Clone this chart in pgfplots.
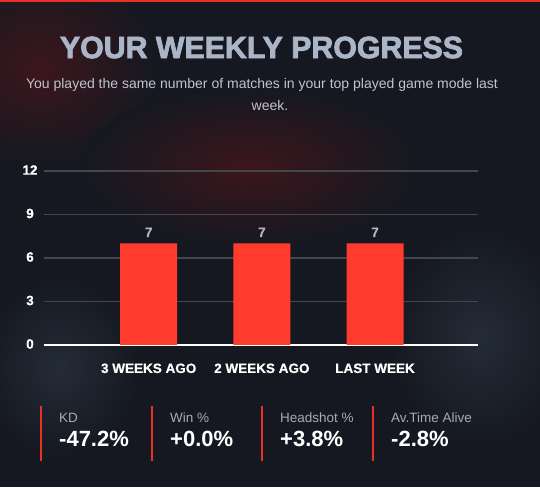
\documentclass[border=0pt]{standalone}
\usepackage{fontspec}
\setmainfont{Liberation Sans}
\newfontfamily\heavyfont[FakeBold=2.5]{Liberation Sans Bold}
\newfontfamily\tickfont[FakeBold=0.6]{Liberation Sans Bold}
\usepackage{graphicx}
\usepackage{pgfplots}
\pgfplotsset{compat=1.18}
\definecolor{bg}{RGB}{21,24,32}
\definecolor{haze}{RGB}{60,22,28}
\definecolor{hazeb}{RGB}{36,44,56}
\definecolor{barred}{RGB}{255,59,45}
\definecolor{sepred}{RGB}{232,50,40}
\definecolor{titlecol}{RGB}{170,182,200}
\definecolor{subcol}{RGB}{192,196,206}
\definecolor{labcol}{RGB}{168,170,178}
\definecolor{valcol}{RGB}{178,182,192}
\definecolor{gridcol}{RGB}{68,70,78}
\begin{document}
\begin{tikzpicture}[x=1pt,y=1pt]
\fill[bg] (0,0) rectangle (540,487);
\begin{scope}
\clip (0,0) rectangle (540,487);
\shade[inner color=haze, outer color=bg] (40,420) ellipse (120 and 100);
\shade[inner color=haze, outer color=bg] (250,320) ellipse (170 and 80);
\shade[inner color=hazeb, outer color=bg] (480,150) ellipse (90 and 110);
\shade[inner color=hazeb, outer color=bg] (60,120) ellipse (80 and 90);
\end{scope}
\fill[sepred] (0,485) rectangle (540,487);
\node[inner sep=0, text=titlecol] at (261.5,439.5)
  {\resizebox{403pt}{21.5pt}{\heavyfont YOUR WEEKLY PROGRESS}};
\node[anchor=base, inner sep=0, text=subcol, font=\fontsize{14}{17}\selectfont] at (262,398)
  {You played the same number of matches in your top played game mode last};
\node[anchor=base, inner sep=0, text=subcol, font=\fontsize{14}{17}\selectfont] at (270,376) {week.};
\begin{axis}[
  at={(44pt,142pt)}, anchor=south west,
  scale only axis, width=434pt, height=174pt,
  ymin=0, ymax=12, ytick={0,3,6,9,12},
  xmin=-0.925, xmax=2.91,
  xtick={0,1,2}, xticklabels={3 WEEKS AGO,2 WEEKS AGO,LAST WEEK},
  ybar, bar width=57pt,
  axis x line=bottom, axis y line=left,
  x axis line style={draw=white, line width=1.2pt, -},
  y axis line style={draw=none},
  major tick length=0pt,
  ymajorgrids, grid style={draw=gridcol, line width=1.5pt},
  /pgf/number format/assume math mode=true,
  ticklabel style={text=white, font=\fontsize{13.5}{15}\tickfont},
  yticklabel style={anchor=center, xshift=-14pt, yshift=1pt},
  xticklabel style={yshift=-15pt},
  nodes near coords,
  every node near coord/.append style={text=valcol, font=\fontsize{13.5}{15}\tickfont, yshift=3pt},
]
\addplot[fill=barred, draw=none] coordinates {(0,7) (1,7) (2,7)};
\end{axis}
\foreach \xx in {41,152,262,373} {\draw[sepred, line width=1.3pt] (\xx,26) -- (\xx,81);}
\foreach \xx/\lab/\val in {59/KD/-47.2\%, 170/Win \%/+0.0\%, 280/Headshot \%/+3.8\%, 391/Av.Time Alive/-2.8\%} {
  \node[anchor=base west, inner sep=0, text=labcol, font=\fontsize{13.5}{16}\selectfont] at (\xx,64.3) {\lab};
  \node[anchor=base west, inner sep=0, text=white, font=\fontsize{22}{26}\selectfont\bfseries] at (\xx,40.3) {\val};
}
\end{tikzpicture}
\end{document}
